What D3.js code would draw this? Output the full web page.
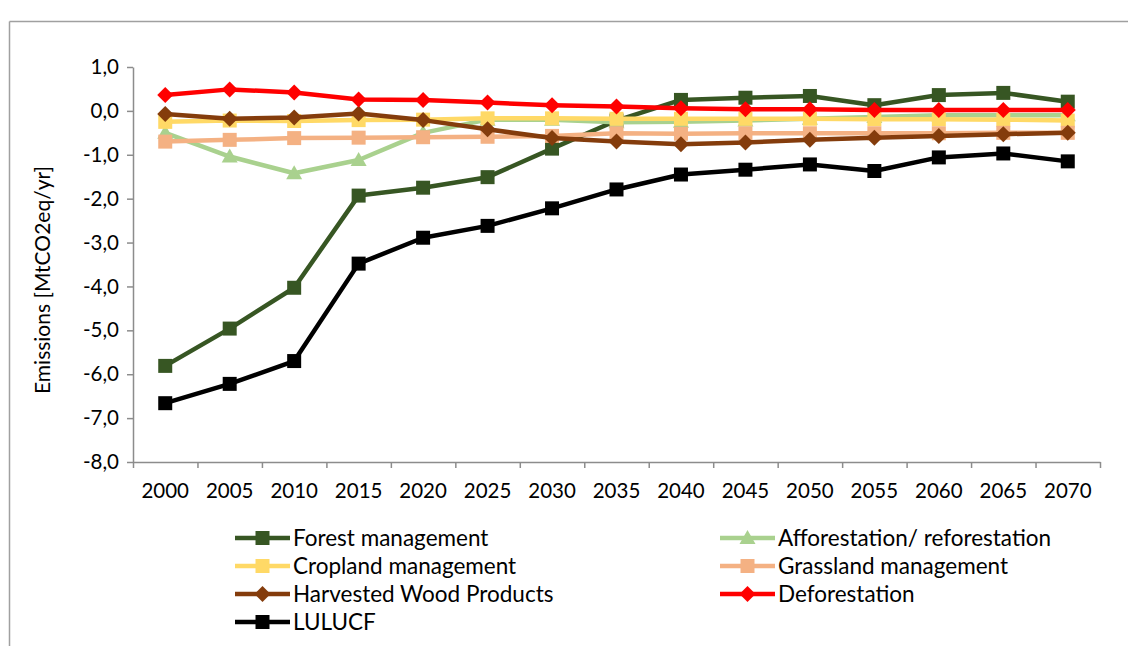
<!DOCTYPE html>
<html>
<head>
<meta charset="utf-8">
<script src="https://cdn.jsdelivr.net/npm/d3@7"></script>
<style>
  body { margin: 0; background: #fff; }
  text { font-family: Lato, "Open Sans", sans-serif; fill: #000; }
</style>
</head>
<body>
<svg id="chart" width="1128" height="646"></svg>
<script>
// ---------- DATA ----------
const years = ["2000","2005","2010","2015","2020","2025","2030","2035","2040","2045","2050","2055","2060","2065","2070"];
const forestManagement   = [-5.81,-4.96,-4.03,-1.93,-1.75,-1.51,-0.86,-0.22,0.25,0.30,0.34,0.13,0.36,0.41,0.21];
const afforestation      = [-0.50,-1.04,-1.42,-1.12,-0.50,-0.20,-0.20,-0.26,-0.25,-0.22,-0.18,-0.14,-0.10,-0.10,-0.10];
const croplandManagement = [-0.25,-0.22,-0.23,-0.21,-0.20,-0.17,-0.17,-0.18,-0.18,-0.18,-0.18,-0.19,-0.19,-0.20,-0.22];
const grasslandManagement= [-0.70,-0.66,-0.62,-0.61,-0.60,-0.59,-0.57,-0.51,-0.52,-0.51,-0.51,-0.51,-0.51,-0.50,-0.50];
const harvestedWood      = [-0.07,-0.18,-0.15,-0.06,-0.21,-0.42,-0.62,-0.70,-0.76,-0.72,-0.66,-0.61,-0.57,-0.53,-0.50];
const deforestation      = [0.36,0.49,0.42,0.26,0.25,0.19,0.13,0.10,0.06,0.04,0.04,0.02,0.02,0.02,0.02];
const lulucf             = [-6.66,-6.22,-5.70,-3.48,-2.89,-2.62,-2.22,-1.79,-1.45,-1.34,-1.22,-1.37,-1.06,-0.97,-1.15];
const seriesNames = ["Forest management","Afforestation/ reforestation","Cropland management","Grassland management","Harvested Wood Products","Deforestation","LULUCF"];
const yTickValues = [1,0,-1,-2,-3,-4,-5,-6,-7,-8];
const yAxisTitle = "Emissions [MtCO2eq/yr]";

// ---------- STYLE ----------
const seriesValues = [forestManagement, afforestation, croplandManagement, grasslandManagement, harvestedWood, deforestation, lulucf];
const seriesColors = ["#375623","#A9D18E","#FFD966","#F4B183","#843C0C","#FF0000","#000000"];
const seriesMarkers = ["square","triangle","square","square","diamond","diamond","square"];

const svg = d3.select("#chart");
const plotLeft = 133, plotRight = 1100, plotTop = 67, plotBottom = 462;
const axisColor = "#8C8C8C";
const tickFont = 20.5;
const textFont = 22.5;

// outer frame (top and left edges)
svg.append("line").attr("x1", 9.5).attr("x2", 1128).attr("y1", 21.5).attr("y2", 21.5).attr("stroke", "#A0A0A0").attr("stroke-width", 1.5);
svg.append("line").attr("x1", 9.5).attr("x2", 9.5).attr("y1", 21.5).attr("y2", 646).attr("stroke", "#A0A0A0").attr("stroke-width", 1.5);

const x = d3.scaleBand().domain(years).range([plotLeft, plotRight]).paddingInner(0).paddingOuter(0);
const xIdx = d3.scaleLinear().domain([0, years.length]).range([plotLeft, plotRight]);
const y = d3.scaleLinear().domain([-8, 1]).range([plotBottom, plotTop]);

const locale = d3.formatLocale({decimal: ",", thousands: ".", grouping: [3], currency: ["", ""], minus: "-"});
const fmt = locale.format(".1f");

// Y axis
const gy = svg.append("g").attr("transform", `translate(${plotLeft},0)`)
  .call(d3.axisLeft(y).tickValues(yTickValues).tickFormat(fmt).tickSize(6).tickPadding(8).tickSizeOuter(0));
gy.select(".domain").attr("stroke", axisColor).attr("stroke-width", 1.5);
gy.selectAll(".tick line").attr("stroke", axisColor).attr("stroke-width", 1.5);
gy.selectAll(".tick text").attr("font-size", tickFont).style("font-family", "Lato, sans-serif").attr("fill", "#000");

// X axis: boundary tick marks
const gxT = svg.append("g").attr("transform", `translate(0,${plotBottom})`)
  .call(d3.axisBottom(xIdx).tickValues(d3.range(0, years.length + 1)).tickFormat("").tickSize(6).tickSizeOuter(0));
gxT.select(".domain").attr("stroke", axisColor).attr("stroke-width", 1.5);
gxT.selectAll(".tick line").attr("stroke", axisColor).attr("stroke-width", 1.5);
// X axis labels
const gx = svg.append("g").attr("transform", `translate(0,${plotBottom})`)
  .call(d3.axisBottom(x).tickSize(0).tickPadding(21));
gx.select(".domain").remove();
gx.selectAll(".tick text").attr("font-size", tickFont).style("font-family", "Lato, sans-serif").attr("fill", "#000");

// Y axis title
svg.append("text")
  .attr("transform", `translate(50,280) rotate(-90)`)
  .attr("text-anchor", "middle")
  .attr("font-size", 21)
  .text(yAxisTitle);

function markerPath(type) {
  if (type === "square") return d3.symbol(d3.symbolSquare, 196)();
  if (type === "diamond") return "M0,-8L8,0L0,8L-8,0Z";
  if (type === "triangle") return "M0,-8L8,6L-8,6Z";
}

const cx = d => x(d) + x.bandwidth() / 2;
const line = d3.line().x((d, i) => cx(years[i])).y(d => y(d));

seriesValues.forEach((vals, s) => {
  const g = svg.append("g");
  g.append("path").datum(vals)
    .attr("d", line)
    .attr("fill", "none")
    .attr("stroke", seriesColors[s])
    .attr("stroke-width", 4.5)
    .attr("stroke-linejoin", "round");
  g.selectAll("path.m").data(vals).join("path")
    .attr("class", "m")
    .attr("d", markerPath(seriesMarkers[s]))
    .attr("transform", (d, i) => `translate(${cx(years[i])},${y(d)})`)
    .attr("fill", seriesColors[s]);
});

// Legend
const legendPos = [
  [235, 538], [720, 538],
  [235, 566], [720, 566],
  [235, 594], [720, 594],
  [235, 622]
];
seriesNames.forEach((name, s) => {
  const [lx, ly] = legendPos[s];
  const g = svg.append("g").attr("transform", `translate(${lx},${ly})`);
  g.append("line").attr("x1", 0).attr("x2", 55).attr("y1", 0).attr("y2", 0)
    .attr("stroke", seriesColors[s]).attr("stroke-width", 4.5);
  g.append("path").attr("d", markerPath(seriesMarkers[s]))
    .attr("transform", "translate(27.5,0)").attr("fill", seriesColors[s]);
  g.append("text").attr("x", 58).attr("y", 0).attr("dy", "0.35em")
    .attr("font-size", textFont).text(name);
});
</script>
</body>
</html>
